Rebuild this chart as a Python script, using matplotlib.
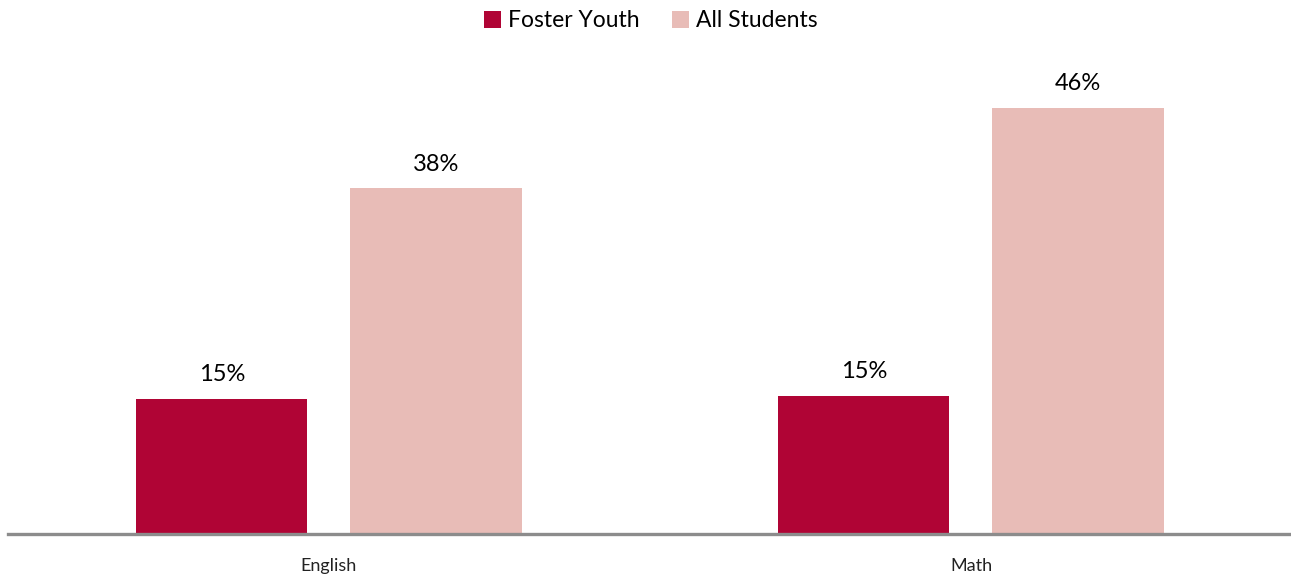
import matplotlib
matplotlib.use("Agg")
import matplotlib.pyplot as plt
import numpy as np
from matplotlib.patches import Patch

subjects = ["English", "Math"]
series = ["Foster Youth", "All Students"]
foster_youth = [14.7, 15.0]
all_students = [37.6, 46.4]
colors = ["#B00435", "#E8BCB7"]

plt.rcParams["font.family"] = ["Lato", "DejaVu Sans"]

fig = plt.figure(figsize=(12.91, 5.77), dpi=100)
ax = fig.add_axes([8 / 1291, 1 - 534 / 577, 1282 / 1291, (534 - 74.5) / 577])

x = np.arange(len(subjects))
width = 0.267
offset = 0.167
for vals, off, col in ((foster_youth, -offset, colors[0]), (all_students, offset, colors[1])):
    bars = ax.bar(x + off, vals, width=width, color=col, zorder=2)
    for b, v in zip(bars, vals):
        ax.annotate(f"{v:.0f}%", (b.get_x() + b.get_width() / 2, v),
                    xytext=(0, 10), textcoords="offset points",
                    ha="center", va="bottom", fontsize=17, color="black")

ax.set_xlim(-0.5, 1.497)
ax.set_ylim(0, 50)
ax.set_xticks(x)
ax.set_xticklabels(subjects, fontsize=13, color="#222222")
ax.tick_params(axis="x", length=0, pad=17)
ax.set_yticks([])
for s in ("top", "right", "left"):
    ax.spines[s].set_visible(False)
ax.spines["bottom"].set_color("#8C8C8C")
ax.spines["bottom"].set_linewidth(2.4)
ax.spines["bottom"].set_zorder(3)

handles = [Patch(facecolor=c, label=l) for c, l in zip(colors, series)]
fig.legend(handles=handles, loc="upper center", bbox_to_anchor=(0.504, 1.018),
           ncol=2, frameon=False, fontsize=16.5, handlelength=0.75, handleheight=0.75,
           handletextpad=0.3, columnspacing=1.4)

fig.savefig("out.png", dpi=100)
